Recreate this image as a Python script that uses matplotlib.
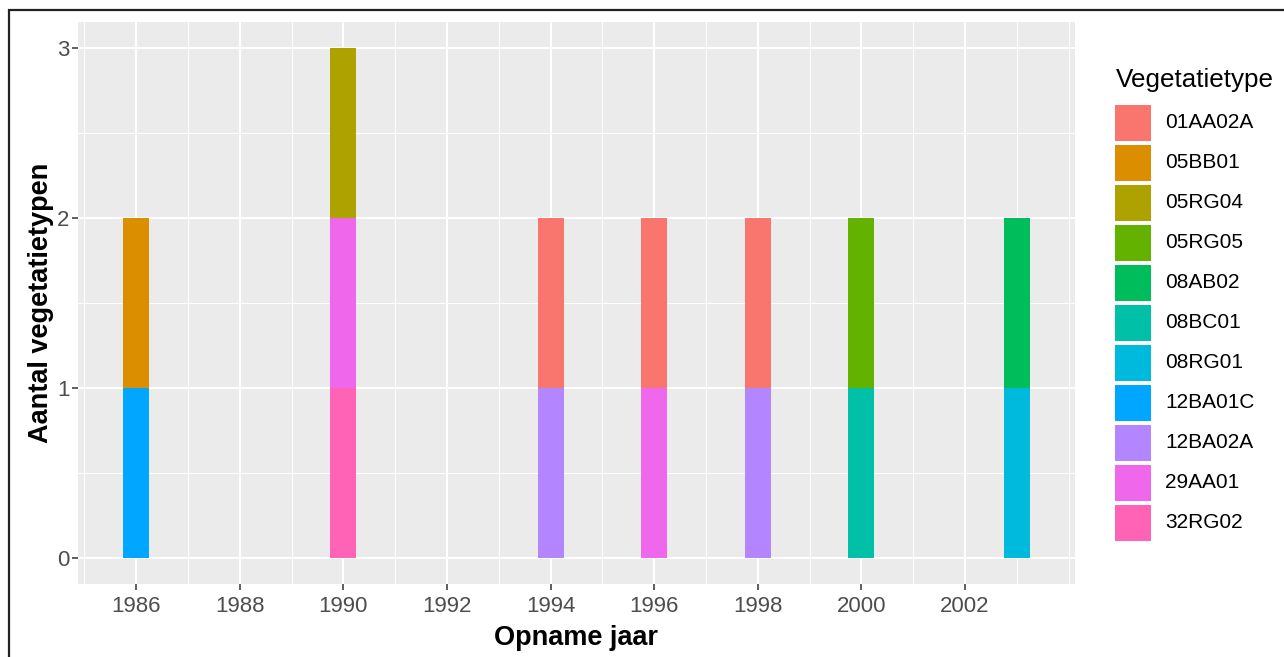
import numpy as np
import matplotlib.pyplot as plt
from matplotlib.patches import Rectangle

plt.rcParams["font.family"] = ["Liberation Sans", "DejaVu Sans"]

# Vegetation types (legend order) and ggplot hue colours
veg_types = ["01AA02A", "05BB01", "05RG04", "05RG05", "08AB02", "08BC01",
             "08RG01", "12BA01C", "12BA02A", "29AA01", "32RG02"]
veg_colors = ["#F8766D", "#DB8E00", "#AEA200", "#64B200", "#00BD5C", "#00C1A7",
              "#00BADE", "#00A6FF", "#B385FF", "#EF67EB", "#FF63B6"]

# one record per (year, type), count 1 each
years = [1986, 1986, 1990, 1990, 1990, 1994, 1994, 1996, 1996, 1998, 1998,
         2000, 2000, 2003, 2003]
types = ["05BB01", "12BA01C", "05RG04", "29AA01", "32RG02", "01AA02A", "12BA02A",
         "01AA02A", "29AA01", "01AA02A", "12BA02A", "05RG05", "08BC01",
         "08AB02", "08RG01"]
counts = [1] * len(years)

x_ticks = list(range(1986, 2003, 2))
y_ticks = [0, 1, 2, 3]

W, H = 1284, 657
fig = plt.figure(figsize=(W / 100, H / 100), dpi=100)

# outer border of the exported image
fig.patches.append(Rectangle((9 / W, -0.1), 1.2, (H - 10) / H + 0.1,
                             transform=fig.transFigure, fill=False,
                             edgecolor="#222222", linewidth=1.6))

# panel in pixel terms: x 78..1075, y 22..584
px_l, px_r, px_t, px_b = 78, 1075, 22, 584
ax = fig.add_axes([px_l / W, (H - px_b) / H, (px_r - px_l) / W, (px_b - px_t) / H])
ax.set_facecolor("#EBEBEB")

# stack: later factor levels at the bottom (ggplot position_stack)
bottoms = {}
order = sorted(range(len(years)), key=lambda i: -veg_types.index(types[i]))
for i in order:
    y0 = bottoms.get(years[i], 0)
    ax.bar(years[i], counts[i], width=0.5, bottom=y0,
           color=veg_colors[veg_types.index(types[i])], linewidth=0, zorder=3)
    bottoms[years[i]] = y0 + counts[i]

ax.set_xlim(1984.875, 2004.125)
ax.set_ylim(-0.15, 3.15)

for v in x_ticks:
    ax.axvline(v, color="white", lw=1.5, zorder=1)
for v in list(range(1985, 2004, 2)) + [2004]:
    ax.axvline(v, color="white", lw=0.7, zorder=1)
for v in y_ticks:
    ax.axhline(v, color="white", lw=1.5, zorder=1)
for v in [0.5, 1.5, 2.5]:
    ax.axhline(v, color="white", lw=0.7, zorder=1)

ax.set_xticks(x_ticks)
ax.set_yticks(y_ticks)
ax.tick_params(axis="both", length=4.5, width=1.1, color="#333333",
               labelcolor="#4D4D4D", labelsize=16)
ax.tick_params(axis="x", pad=4.5)
ax.tick_params(axis="y", pad=1.5)
for s in ax.spines.values():
    s.set_visible(False)

ax.set_xlabel("Opname jaar", fontsize=19.5, fontweight="bold")
ax.set_ylabel("Aantal vegetatietypen", fontsize=19.5, fontweight="bold")
ax.xaxis.set_label_coords(0.5, (px_b - 625) / (px_b - px_t))
ax.yaxis.set_label_coords((54 - px_l) / (px_r - px_l), 0.5)

# legend drawn in pixel coordinates
lg = fig.add_axes([0, 0, 1, 1], zorder=5)
lg.set_xlim(0, W)
lg.set_ylim(H, 0)
lg.axis("off")
lg.text(1116, 80, "Vegetatietype", fontsize=18.7, va="center", ha="left")
for k, (name, col) in enumerate(zip(veg_types, veg_colors)):
    yc = 123 + k * 40
    lg.add_patch(Rectangle((1115, yc - 18), 36, 36, facecolor=col,
                           edgecolor="none"))
    lg.text(1165, yc, name, fontsize=15, va="center", ha="left")

fig.savefig("out.png", dpi=100)
